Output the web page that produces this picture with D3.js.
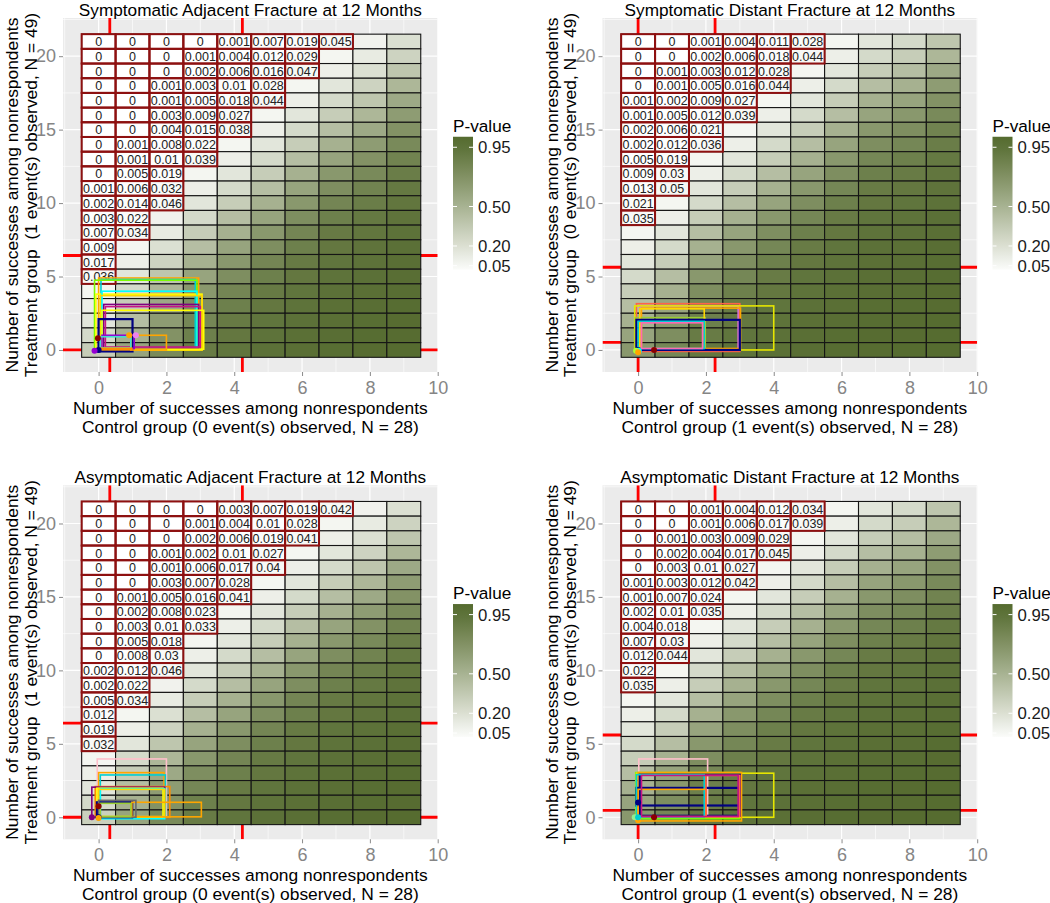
<!DOCTYPE html>
<html>
<head>
<meta charset="utf-8">
<script src="https://cdn.jsdelivr.net/npm/d3@7"></script>
<style>
  body { margin: 0; background: #fff; }
  svg { display: block; font-family: "Liberation Sans", Arial, sans-serif; }
</style>
</head>
<body>
<div id="graph"></div>
<script>
"use strict";

var width = 1050,
    height = 903;

// categories: successes among nonrespondents
const controlSuccesses = [0, 1, 2, 3, 4, 5, 6, 7, 8, 9];
const treatmentSuccesses = [21, 20, 19, 18, 17, 16, 15, 14, 13, 12, 11, 10, 9, 8, 7, 6, 5, 4, 3, 2, 1, 0];

const xTicks = [0, 2, 4, 6, 8, 10];
const yTicks = [0, 5, 10, 15, 20];
const legendTicks = [0.05, 0.20, 0.50, 0.95];

const panelTitles = [
    "Symptomatic Adjacent Fracture at 12 Months",
    "Symptomatic Distant Fracture at 12 Months",
    "Asymptomatic Adjacent Fracture at 12 Months",
    "Asymptomatic Distant Fracture at 12 Months"
];
const controlEvents = [0, 1, 0, 1];
const treatmentEvents = [1, 0, 1, 0];

// p-values, one row per treatment value (21 at top), one column per control value
const pSymAdj = [
    [0, 0, 0, 0, 0.001, 0.007, 0.019, 0.045, 0.08, 0.2],
    [0, 0, 0, 0.001, 0.004, 0.012, 0.029, 0.06, 0.13, 0.28],
    [0, 0, 0, 0.002, 0.006, 0.016, 0.047, 0.1, 0.2, 0.37],
    [0, 0, 0.001, 0.003, 0.01, 0.028, 0.06, 0.16, 0.28, 0.47],
    [0, 0, 0.001, 0.005, 0.018, 0.044, 0.1, 0.24, 0.37, 0.56],
    [0, 0, 0.003, 0.009, 0.027, 0.06, 0.16, 0.32, 0.47, 0.65],
    [0, 0, 0.004, 0.015, 0.038, 0.1, 0.24, 0.42, 0.56, 0.72],
    [0, 0.001, 0.008, 0.022, 0.06, 0.16, 0.32, 0.51, 0.65, 0.78],
    [0, 0.001, 0.01, 0.039, 0.1, 0.24, 0.42, 0.6, 0.72, 0.83],
    [0, 0.005, 0.019, 0.06, 0.16, 0.32, 0.51, 0.68, 0.78, 0.87],
    [0.001, 0.006, 0.032, 0.1, 0.24, 0.42, 0.6, 0.75, 0.83, 0.9],
    [0.002, 0.014, 0.046, 0.16, 0.32, 0.51, 0.68, 0.81, 0.87, 0.92],
    [0.003, 0.022, 0.08, 0.24, 0.42, 0.6, 0.75, 0.85, 0.9, 0.94],
    [0.007, 0.034, 0.13, 0.32, 0.51, 0.68, 0.81, 0.89, 0.92, 0.95],
    [0.009, 0.06, 0.2, 0.42, 0.6, 0.75, 0.85, 0.91, 0.94, 0.96],
    [0.017, 0.1, 0.28, 0.51, 0.68, 0.81, 0.89, 0.93, 0.95, 0.97],
    [0.036, 0.16, 0.37, 0.6, 0.75, 0.85, 0.91, 0.945, 0.96, 0.975],
    [0.06, 0.24, 0.47, 0.68, 0.81, 0.89, 0.93, 0.955, 0.97, 0.98],
    [0.1, 0.32, 0.56, 0.75, 0.85, 0.91, 0.945, 0.965, 0.975, 0.985],
    [0.16, 0.42, 0.65, 0.8, 0.89, 0.93, 0.955, 0.97, 0.98, 0.99],
    [0.24, 0.51, 0.72, 0.85, 0.91, 0.945, 0.965, 0.975, 0.985, 0.99],
    [0.32, 0.6, 0.78, 0.885, 0.93, 0.955, 0.97, 0.98, 0.99, 0.995]
];

const pSymDist = [
    [0, 0, 0.001, 0.004, 0.011, 0.028, 0.06, 0.16, 0.24, 0.37],
    [0, 0, 0.002, 0.006, 0.018, 0.044, 0.1, 0.24, 0.32, 0.47],
    [0, 0.001, 0.003, 0.012, 0.028, 0.06, 0.16, 0.32, 0.42, 0.56],
    [0, 0.001, 0.005, 0.016, 0.044, 0.1, 0.24, 0.42, 0.51, 0.65],
    [0.001, 0.002, 0.009, 0.027, 0.06, 0.16, 0.32, 0.51, 0.6, 0.72],
    [0.001, 0.005, 0.012, 0.039, 0.1, 0.24, 0.42, 0.6, 0.68, 0.78],
    [0.002, 0.006, 0.021, 0.06, 0.16, 0.32, 0.51, 0.68, 0.75, 0.83],
    [0.002, 0.012, 0.036, 0.1, 0.24, 0.42, 0.6, 0.75, 0.8, 0.87],
    [0.005, 0.019, 0.06, 0.16, 0.32, 0.51, 0.68, 0.8, 0.85, 0.9],
    [0.009, 0.03, 0.1, 0.24, 0.42, 0.6, 0.75, 0.85, 0.885, 0.92],
    [0.013, 0.05, 0.16, 0.32, 0.51, 0.68, 0.8, 0.885, 0.91, 0.94],
    [0.021, 0.06, 0.24, 0.42, 0.6, 0.75, 0.85, 0.91, 0.93, 0.95],
    [0.035, 0.1, 0.32, 0.51, 0.68, 0.8, 0.885, 0.93, 0.945, 0.96],
    [0.06, 0.16, 0.42, 0.6, 0.75, 0.85, 0.91, 0.945, 0.955, 0.97],
    [0.1, 0.24, 0.51, 0.68, 0.8, 0.885, 0.93, 0.955, 0.965, 0.975],
    [0.16, 0.32, 0.6, 0.75, 0.85, 0.91, 0.945, 0.965, 0.97, 0.98],
    [0.24, 0.42, 0.68, 0.8, 0.885, 0.93, 0.955, 0.97, 0.975, 0.985],
    [0.32, 0.51, 0.75, 0.85, 0.91, 0.945, 0.965, 0.975, 0.98, 0.99],
    [0.42, 0.6, 0.8, 0.885, 0.93, 0.955, 0.97, 0.98, 0.985, 0.99],
    [0.51, 0.68, 0.85, 0.91, 0.945, 0.965, 0.975, 0.985, 0.99, 0.995],
    [0.6, 0.75, 0.885, 0.93, 0.955, 0.97, 0.98, 0.99, 0.99, 0.995],
    [0.68, 0.8, 0.91, 0.945, 0.965, 0.975, 0.985, 0.99, 0.995, 0.995]
];

const pAsymAdj = [
    [0, 0, 0, 0, 0.003, 0.007, 0.019, 0.042, 0.08, 0.2],
    [0, 0, 0, 0.001, 0.004, 0.01, 0.028, 0.06, 0.13, 0.28],
    [0, 0, 0, 0.002, 0.006, 0.019, 0.041, 0.1, 0.2, 0.37],
    [0, 0, 0.001, 0.002, 0.01, 0.027, 0.06, 0.16, 0.28, 0.47],
    [0, 0, 0.001, 0.006, 0.017, 0.04, 0.1, 0.24, 0.37, 0.56],
    [0, 0, 0.003, 0.007, 0.028, 0.06, 0.16, 0.32, 0.47, 0.65],
    [0, 0.001, 0.005, 0.016, 0.041, 0.1, 0.24, 0.42, 0.56, 0.72],
    [0, 0.002, 0.008, 0.023, 0.06, 0.16, 0.32, 0.51, 0.65, 0.78],
    [0, 0.003, 0.01, 0.033, 0.1, 0.24, 0.42, 0.6, 0.72, 0.83],
    [0, 0.005, 0.018, 0.06, 0.16, 0.32, 0.51, 0.68, 0.78, 0.87],
    [0, 0.008, 0.03, 0.1, 0.24, 0.42, 0.6, 0.75, 0.83, 0.9],
    [0.002, 0.012, 0.046, 0.16, 0.32, 0.51, 0.68, 0.81, 0.87, 0.92],
    [0.002, 0.022, 0.08, 0.24, 0.42, 0.6, 0.75, 0.85, 0.9, 0.94],
    [0.005, 0.034, 0.13, 0.32, 0.51, 0.68, 0.81, 0.89, 0.92, 0.95],
    [0.012, 0.06, 0.2, 0.42, 0.6, 0.75, 0.85, 0.91, 0.94, 0.96],
    [0.019, 0.1, 0.28, 0.51, 0.68, 0.81, 0.89, 0.93, 0.95, 0.97],
    [0.032, 0.16, 0.37, 0.6, 0.75, 0.85, 0.91, 0.945, 0.96, 0.975],
    [0.06, 0.24, 0.47, 0.68, 0.81, 0.89, 0.93, 0.955, 0.97, 0.98],
    [0.1, 0.32, 0.56, 0.75, 0.85, 0.91, 0.945, 0.965, 0.975, 0.985],
    [0.16, 0.42, 0.65, 0.8, 0.89, 0.93, 0.955, 0.97, 0.98, 0.99],
    [0.24, 0.51, 0.72, 0.85, 0.91, 0.945, 0.965, 0.975, 0.985, 0.99],
    [0.3, 0.6, 0.78, 0.885, 0.93, 0.955, 0.97, 0.98, 0.99, 0.995]
];

const pAsymDist = [
    [0, 0, 0.001, 0.004, 0.012, 0.034, 0.06, 0.16, 0.24, 0.37],
    [0, 0, 0.001, 0.006, 0.017, 0.039, 0.1, 0.24, 0.32, 0.47],
    [0, 0.001, 0.003, 0.009, 0.029, 0.06, 0.16, 0.32, 0.42, 0.56],
    [0, 0.002, 0.004, 0.017, 0.045, 0.1, 0.24, 0.42, 0.51, 0.65],
    [0, 0.003, 0.01, 0.027, 0.06, 0.16, 0.32, 0.51, 0.6, 0.72],
    [0.001, 0.003, 0.012, 0.042, 0.1, 0.24, 0.42, 0.6, 0.68, 0.78],
    [0.001, 0.007, 0.024, 0.06, 0.16, 0.32, 0.51, 0.68, 0.75, 0.83],
    [0.002, 0.01, 0.035, 0.1, 0.24, 0.42, 0.6, 0.75, 0.8, 0.87],
    [0.004, 0.018, 0.06, 0.16, 0.32, 0.51, 0.68, 0.8, 0.85, 0.9],
    [0.007, 0.03, 0.1, 0.24, 0.42, 0.6, 0.75, 0.85, 0.885, 0.92],
    [0.012, 0.044, 0.16, 0.32, 0.51, 0.68, 0.8, 0.885, 0.91, 0.94],
    [0.022, 0.06, 0.24, 0.42, 0.6, 0.75, 0.85, 0.91, 0.93, 0.95],
    [0.035, 0.1, 0.32, 0.51, 0.68, 0.8, 0.885, 0.93, 0.945, 0.96],
    [0.06, 0.16, 0.42, 0.6, 0.75, 0.85, 0.91, 0.945, 0.955, 0.97],
    [0.1, 0.24, 0.51, 0.68, 0.8, 0.885, 0.93, 0.955, 0.965, 0.975],
    [0.16, 0.32, 0.6, 0.75, 0.85, 0.91, 0.945, 0.965, 0.97, 0.98],
    [0.24, 0.42, 0.68, 0.8, 0.885, 0.93, 0.955, 0.97, 0.975, 0.985],
    [0.32, 0.51, 0.75, 0.85, 0.91, 0.945, 0.965, 0.975, 0.98, 0.99],
    [0.42, 0.6, 0.8, 0.885, 0.93, 0.955, 0.97, 0.98, 0.985, 0.99],
    [0.51, 0.68, 0.85, 0.91, 0.945, 0.965, 0.975, 0.985, 0.99, 0.995],
    [0.6, 0.75, 0.885, 0.93, 0.955, 0.97, 0.98, 0.99, 0.99, 0.995],
    [0.68, 0.8, 0.91, 0.945, 0.965, 0.975, 0.985, 0.99, 0.995, 0.995]
];

// red reference lines (control value, treatment value)
const refControl = [[0.33, 4.24], [0, 2.27], [0.33, 4.24], [0, 2.27]];
const refTreatment = [[0, 6.43], [0.52, 5.63], [0, 6.41], [0.47, 5.6]];

// intervals drawn as boxes: [control lo, control hi, treatment lo, treatment hi]
const boxesSymAdj = [
    [0, 2.95, 0, 4.9], [0.07, 2.85, 0.05, 4.8], [-0.12, 2.9, 0, 4.75], [-0.08, 3.05, 0, 3.8],
    [0.1, 2.9, 0.1, 4.0], [0.05, 3.05, 0, 3.7], [0.15, 2.95, 0.1, 3.1], [0.2, 3.0, 0.2, 2.95],
    [0.1, 3.1, 0.05, 2.7], [0, 1.0, -0.1, 2.1], [0.95, 2.0, 0, 1.0], [0.1, 1.05, 0.1, 1.0],
    [0.05, 0.95, 0.15, 0.9], [0.02, 0.98, 0.02, 0.12], [-0.1, -0.1, 0, 3.0]
];
const boxColorsSymAdj = ["orange", "darkturquoise", "lawngreen", "yellow", "cyan", "gold", "purple",
    "mediumvioletred", "yellow", "navy", "orange", "darkviolet", "turquoise", "darkorange", "darkred"];
const dotsSymAdj = [[-0.02, 0.8], [0, 0], [-0.12, -0.05], [0.9, 1.0], [1.1, 1.0]];
const dotColorsSymAdj = ["darkred", "navy", "darkviolet", "orange", "violet"];

const boxesSymDist = [
    [-0.05, 3.0, -0.1, 3.15], [0.05, 2.95, 0.05, 2.98], [-0.1, 4.0, 0, 3.0], [0.1, 3.02, 0.1, 2.85],
    [-0.08, 1.98, 0, 2.2], [0.05, 1.95, 0.05, 2.8], [-0.05, 3.0, 0, 2.05], [0, 1.95, 0.1, 1.95],
    [0.1, 1.9, 0.1, 1.85], [2.0, 3.0, 0.08, 0.08]
];
const boxColorsSymDist = ["tomato", "orchid", "#e6e600", "orange", "yellowgreen", "gold", "navy",
    "darkturquoise", "hotpink", "springgreen"];
const dotsSymDist = [[0.47, 0], [0, 0], [0.02, -0.05], [-0.06, -0.05], [0, -0.15]];
const dotColorsSymDist = ["darkred", "navy", "cyan", "greenyellow", "orange"];

const boxesAsymAdj = [
    [-0.04, 2.0, 0, 3.97], [0, 1.93, 0, 3.04], [0.05, 1.97, 0, 2.88], [-0.1, 2.1, 0, 2.09],
    [-0.2, 1.95, 0, 2.05], [-0.05, 1.9, 0, 1.98], [0.05, 1.95, -0.1, 1.95], [0, 1.95, 0.05, 1.9],
    [-0.05, 0.99, 0, 1.02], [0.98, 3.03, 0.03, 1.02], [0, 1.1, 0, 1.15], [0.05, 0.95, 0.05, 0.95],
    [0, 1.0, -0.1, -0.1]
];
const boxColorsAsymAdj = ["pink", "orange", "darkturquoise", "darkorange", "purple", "yellow", "cyan",
    "gold", "navy", "orange", "dimgray", "yellowgreen", "lightgreen"];
const dotsAsymAdj = [[-0.2, 0], [0, 0.75], [0, 0], [0, -0.05]];
const dotColorsAsymAdj = ["purple", "darkred", "navy", "orange"];

const boxesAsymDist = [
    [0.02, 2.05, 0, 3.97], [-0.07, 3.0, -0.1, 3.04], [-0.05, 4.0, 0, 3.0], [0, 3.05, -0.25, 3.05],
    [0.05, 3.0, 0.1, 2.9], [-0.05, 3.0, 0.8, 2.0], [-0.05, 1.95, 0, 2.9], [0, 2.0, 0.05, 1.9],
    [2.0, 3.0, 0.05, 2.85], [0.1, 2.95, 0.05, 2.85], [0.05, 2.0, 0.05, 0.05]
];
const boxColorsAsymDist = ["pink", "lawngreen", "#e6e600", "orange", "navy", "navy", "darkturquoise",
    "orange", "tomato", "mediumvioletred", "darkmagenta"];
const dotsAsymDist = [[0.47, 0], [0, 1.0], [0, -0.2], [-0.1, 0], [0, 0]];
const dotColorsAsymDist = ["darkred", "navy", "orange", "lightgreen", "darkturquoise"];

const panels = [
    { p: pSymAdj, boxes: boxesSymAdj, boxColors: boxColorsSymAdj, dots: dotsSymAdj, dotColors: dotColorsSymAdj },
    { p: pSymDist, boxes: boxesSymDist, boxColors: boxColorsSymDist, dots: dotsSymDist, dotColors: dotColorsSymDist },
    { p: pAsymAdj, boxes: boxesAsymAdj, boxColors: boxColorsAsymAdj, dots: dotsAsymAdj, dotColors: dotColorsAsymAdj },
    { p: pAsymDist, boxes: boxesAsymDist, boxColors: boxColorsAsymDist, dots: dotsAsymDist, dotColors: dotColorsAsymDist }
];
const offsets = [[0, 0], [539.5, 0], [0, 467.3], [539.5, 467.3]];

let svg = d3.select("#graph").append("svg")
    .attr("width", width)
    .attr("height", height);
svg.append("rect").attr("width", width).attr("height", height).attr("fill", "#fff");
let defs = svg.append("defs");

let fill = d3.scaleLinear()
    .domain([0, 1])
    .range(["#ffffff", "#556b2f"])
    .interpolate(d3.interpolateLab)
    .clamp(true);

let grad = defs.append("linearGradient").attr("id", "pgrad")
    .attr("x1", 0).attr("y1", 1).attr("x2", 0).attr("y2", 0);
d3.range(11).forEach(k => {
    grad.append("stop")
        .attr("offset", k / 10)
        .attr("stop-color", fill(0.02 + k * 0.101));
});

panels.forEach((pn, i) => drawPanel(pn, i));

function drawPanel(pn, i) {
    let dx = offsets[i][0], dy = offsets[i][1];
    let x = d3.scaleLinear().domain([-1.05, 10]).range([63 + dx, 437.7 + dx]);
    let y = d3.scaleLinear().domain([-1.5, 22.6]).range([372 + dy, 18 + dy]);
    let [xl, xr] = x.range(), [yb, yt] = y.range();
    let g = svg.append("g");

    defs.append("clipPath").attr("id", "clip" + i)
        .append("rect").attr("x", xl).attr("y", yt).attr("width", xr - xl).attr("height", yb - yt);

    g.append("rect")
        .attr("x", xl).attr("y", yt)
        .attr("width", xr - xl).attr("height", yb - yt)
        .attr("fill", "#ebebeb");

    let plot = g.append("g").attr("clip-path", "url(#clip" + i + ")");

    // grid
    plot.selectAll(".gxm").data([-1, 1, 3, 5, 7, 9]).join("line")
        .attr("x1", d => x(d)).attr("x2", d => x(d)).attr("y1", yt).attr("y2", yb)
        .attr("stroke", "#fff").attr("stroke-width", 0.6);
    plot.selectAll(".gym").data([2.5, 7.5, 12.5, 17.5, 22.5]).join("line")
        .attr("y1", d => y(d)).attr("y2", d => y(d)).attr("x1", xl).attr("x2", xr)
        .attr("stroke", "#fff").attr("stroke-width", 0.6);
    plot.append("g").selectAll("line").data(xTicks).join("line")
        .attr("x1", d => x(d)).attr("x2", d => x(d)).attr("y1", yt).attr("y2", yb)
        .attr("stroke", "#fff").attr("stroke-width", 1.2);
    plot.append("g").selectAll("line").data(yTicks).join("line")
        .attr("y1", d => y(d)).attr("y2", d => y(d)).attr("x1", xl).attr("x2", xr)
        .attr("stroke", "#fff").attr("stroke-width", 1.2);

    // red reference lines
    plot.append("g").selectAll("line").data(refControl[i]).join("line")
        .attr("x1", d => x(d)).attr("x2", d => x(d)).attr("y1", yt).attr("y2", yb)
        .attr("stroke", "#ff0000").attr("stroke-width", 2.8);
    plot.append("g").selectAll("line").data(refTreatment[i]).join("line")
        .attr("y1", d => y(d)).attr("y2", d => y(d)).attr("x1", xl).attr("x2", xr)
        .attr("stroke", "#ff0000").attr("stroke-width", 2.8);

    // tiles
    let cells = [];
    treatmentSuccesses.forEach((ty, r) => {
        controlSuccesses.forEach((cx, c) => cells.push({ cx: cx, ty: ty, p: pn.p[r][c] }));
    });
    plot.append("g").selectAll("rect").data(cells).join("rect")
        .attr("x", d => x(d.cx - 0.5))
        .attr("y", d => y(d.ty + 0.5))
        .attr("width", d => x(d.cx + 0.5) - x(d.cx - 0.5))
        .attr("height", d => y(d.ty - 0.5) - y(d.ty + 0.5))
        .attr("fill", d => fill(d.p))
        .attr("stroke", "#151515")
        .attr("stroke-width", 1.1);

    let sig = cells.filter(d => d.p <= 0.05);
    plot.append("g").selectAll("rect").data(sig).join("rect")
        .attr("x", d => x(d.cx - 0.5))
        .attr("y", d => y(d.ty + 0.5))
        .attr("width", d => x(d.cx + 0.5) - x(d.cx - 0.5))
        .attr("height", d => y(d.ty - 0.5) - y(d.ty + 0.5))
        .attr("fill", "none")
        .attr("stroke", "#8e1010")
        .attr("stroke-width", 2);
    plot.append("g").selectAll("text").data(sig).join("text")
        .attr("x", d => x(d.cx))
        .attr("y", d => y(d.ty))
        .attr("dy", "0.38em")
        .attr("text-anchor", "middle")
        .attr("font-size", 12.5)
        .attr("fill", "#222")
        .text(d => String(d.p));

    // interval boxes and points
    plot.append("g").selectAll("rect").data(pn.boxes).join("rect")
        .attr("x", d => x(d[0]))
        .attr("y", d => y(d[3]))
        .attr("width", d => x(d[1]) - x(d[0]))
        .attr("height", d => y(d[2]) - y(d[3]))
        .attr("fill", "none")
        .attr("stroke", (d, k) => pn.boxColors[k])
        .attr("stroke-width", (d, k) => pn.boxColors[k] === "navy" ? 2.2 : 1.6);
    plot.append("g").selectAll("circle").data(pn.dots).join("circle")
        .attr("cx", d => x(d[0]))
        .attr("cy", d => y(d[1]))
        .attr("r", 3)
        .attr("fill", (d, k) => pn.dotColors[k]);

    // axes
    let ax = g.append("g").attr("transform", "translate(0," + yb + ")")
        .call(d3.axisBottom(x).tickValues(xTicks).tickSize(4).tickPadding(5));
    let ay = g.append("g").attr("transform", "translate(" + xl + ",0)")
        .call(d3.axisLeft(y).tickValues(yTicks).tickSize(4).tickPadding(3));
    [ax, ay].forEach(a => {
        a.attr("font-size", 18).attr("font-family", null);
        a.select(".domain").remove();
        a.selectAll("line").attr("stroke", "#8a8a8a");
        a.selectAll("text").attr("fill", "#858585");
    });

    // titles
    let cxm = (xl + xr) / 2, cym = (yb + yt) / 2;
    g.append("text")
        .attr("x", cxm).attr("y", 15.5 + dy)
        .attr("text-anchor", "middle").attr("font-size", 17.2)
        .text(panelTitles[i]);
    g.append("text")
        .attr("x", cxm).attr("y", 414 + dy)
        .attr("text-anchor", "middle").attr("font-size", 17.4)
        .text("Number of successes among nonrespondents");
    g.append("text")
        .attr("x", cxm).attr("y", 433 + dy)
        .attr("text-anchor", "middle").attr("font-size", 17.4)
        .text("Control group (" + controlEvents[i] + " event(s) observed, N = 28)");
    g.append("text")
        .attr("transform", "translate(" + (18 + dx) + "," + cym + ") rotate(-90)")
        .attr("text-anchor", "middle").attr("font-size", 17.4)
        .text("Number of successes among nonrespondents");
    g.append("text")
        .attr("transform", "translate(" + (36.5 + dx) + "," + cym + ") rotate(-90)")
        .attr("text-anchor", "middle").attr("font-size", 17.4)
        .style("white-space", "pre")
        .text("Treatment group  (" + treatmentEvents[i] + " event(s) observed, N = 49)");

    // legend
    let ls = d3.scaleLinear().domain([0, 1]).range([272.3 + dy, 140.7 + dy]);
    let lx = 453 + dx;
    g.append("text")
        .attr("x", lx).attr("y", 132 + dy)
        .attr("font-size", 17.2)
        .text("P-value");
    g.append("rect")
        .attr("x", lx).attr("y", ls(1.03))
        .attr("width", 20).attr("height", ls(0.02) - ls(1.03))
        .attr("fill", "url(#pgrad)");
    let lt = g.append("g");
    lt.selectAll(".l1").data(legendTicks).join("line")
        .attr("x1", lx).attr("x2", lx + 4)
        .attr("y1", d => ls(d)).attr("y2", d => ls(d))
        .attr("stroke", "#fff").attr("stroke-width", 1);
    lt.selectAll(".l2").data(legendTicks).join("line")
        .attr("x1", lx + 16).attr("x2", lx + 20)
        .attr("y1", d => ls(d)).attr("y2", d => ls(d))
        .attr("stroke", "#fff").attr("stroke-width", 1);
    lt.selectAll("text").data(legendTicks).join("text")
        .attr("x", lx + 25)
        .attr("y", d => ls(d))
        .attr("dy", "0.36em")
        .attr("font-size", 16.8)
        .attr("fill", "#1a1a1a")
        .text(d => d3.format(".2f")(d));
}
</script>
</body>
</html>
